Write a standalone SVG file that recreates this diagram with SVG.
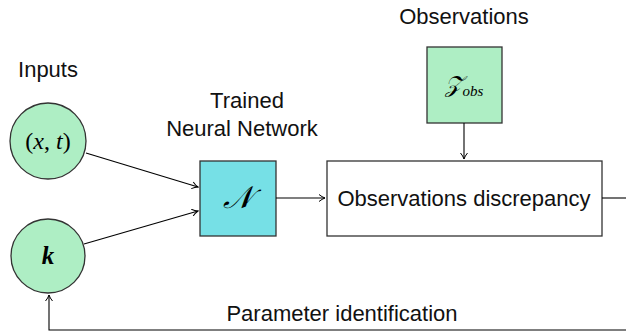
<svg xmlns="http://www.w3.org/2000/svg" width="626" height="331" viewBox="0 0 626 331">
<defs>
<marker id="arr" markerWidth="8" markerHeight="8" refX="7" refY="4" orient="auto" markerUnits="userSpaceOnUse">
<path d="M1,0.5 Q4,3 7,4 Q4,5 1,7.5" fill="none" stroke="#000" stroke-width="1"/>
</marker>
<style>
.lbl{font-family:"Liberation Sans",Arial,sans-serif;font-size:22px;fill:#111;text-anchor:middle}
.math{font-family:"Liberation Serif","Times New Roman",serif;fill:#000;text-anchor:middle}
.node{stroke:#333;stroke-width:1.3}
.green{fill:#aeeec4}
.cyan{fill:#76e0e6}
.edge{fill:none;stroke:#000;stroke-width:1.1}
</style>
</defs>
<rect width="626" height="331" fill="#fff"/>
<text class="lbl" x="48" y="77">Inputs</text>
<text class="lbl" x="247" y="108">Trained</text>
<text class="lbl" x="242" y="136">Neural Network</text>
<text class="lbl" x="464" y="24">Observations</text>
<text class="lbl" x="342" y="321">Parameter identification</text>
<g id="node-xt">
<circle class="node green" cx="48" cy="141" r="38"/>
<text class="math" x="48" y="149" font-size="24">(<tspan font-style="italic">x</tspan>, <tspan font-style="italic">t</tspan>)</text>
</g>
<g id="node-k">
<circle class="node green" cx="48" cy="256" r="37"/>
<text class="math" x="48" y="264" font-size="25" font-style="italic" font-weight="bold">k</text>
</g>
<g id="node-nn">
<rect class="node cyan" x="200" y="161" width="76" height="75"/>
<text class="math" x="238" y="208" font-size="31" font-style="italic">𝒩</text>
</g>
<g id="node-zobs">
<rect class="node green" x="427" y="47" width="75" height="76"/>
<text class="math" x="464" y="92" font-size="23" font-style="italic">𝒵<tspan font-size="15" dy="4">obs</tspan></text>
</g>
<g id="node-disc">
<rect class="node" fill="#fff" x="327" y="161" width="275" height="75"/>
<text class="lbl" x="464" y="206">Observations discrepancy</text>
</g>
<g id="connectors">
<line class="edge" x1="86" y1="153" x2="198" y2="187" marker-end="url(#arr)"/>
<line class="edge" x1="84" y1="244" x2="198" y2="211" marker-end="url(#arr)"/>
<line class="edge" x1="276" y1="198" x2="325" y2="198" marker-end="url(#arr)"/>
<line class="edge" x1="464" y1="123" x2="464" y2="159" marker-end="url(#arr)"/>
<line class="edge" x1="602" y1="198" x2="626" y2="198"/>
<path class="edge" d="M626,330 H49 V295" marker-end="url(#arr)"/>
</g>
</svg>
